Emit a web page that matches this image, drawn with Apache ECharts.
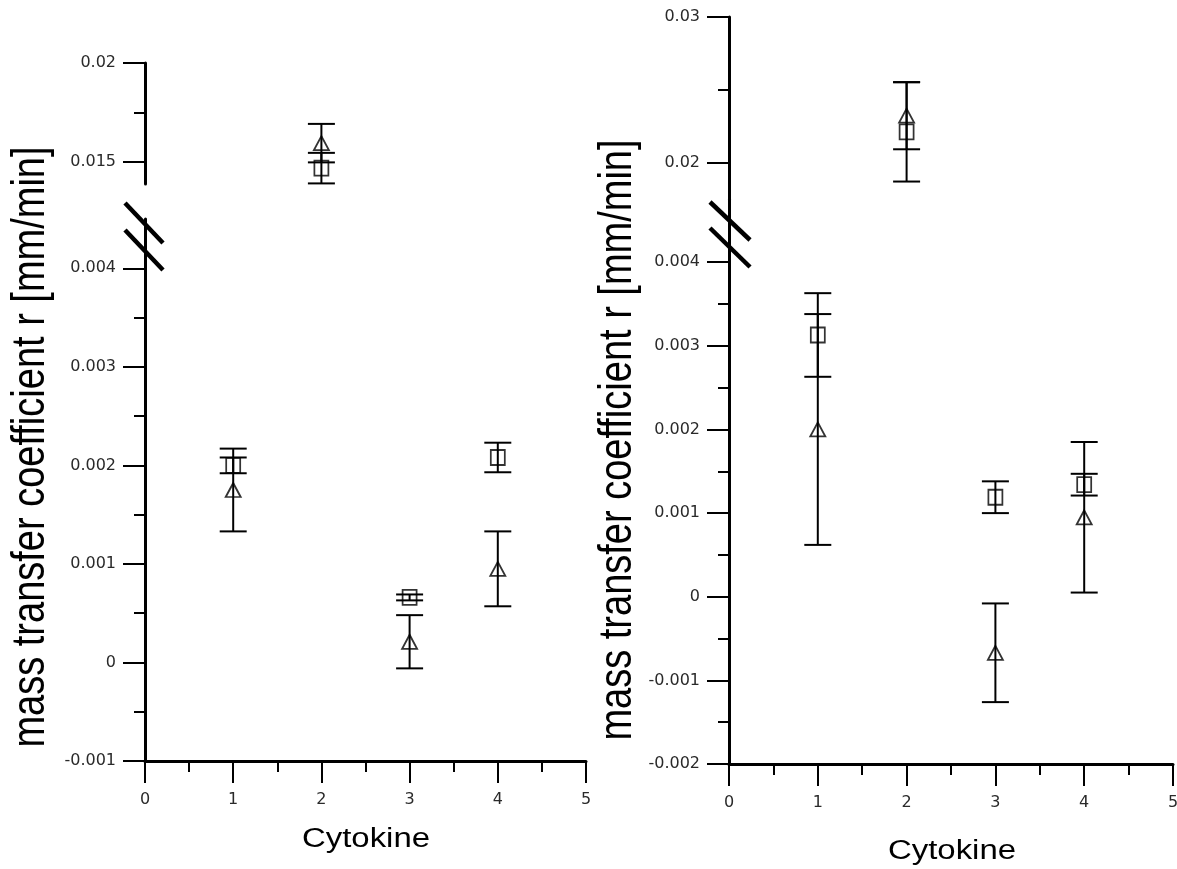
<!DOCTYPE html>
<html>
<head>
<meta charset="utf-8">
<script src="https://cdn.jsdelivr.net/npm/echarts@6/dist/echarts.min.js"></script>
<style>
html, body { margin: 0; padding: 0; background: #fff; }
#main { width: 1177px; height: 869px; }
</style>
</head>
<body>
<div id="main"></div>
<script>
// data
var cytokine = [1, 2, 3, 4];

var leftSquareMean = [0.0020, 0.0147, 0.00066, 0.00208];
var leftSquareErr = [0.00008, 0.00077, 0.00003, 0.00015];
var leftTriMean = [0.00175, 0.01596, 0.00021, 0.00095];
var leftTriErr = [0.00042, 0.00097, 0.00027, 0.00038];

var rightSquareMean = [0.00313, 0.02213, 0.00119, 0.00134];
var rightSquareErr = [0.0005, 0.0034, 0.00019, 0.00013];
var rightTriMean = [0.0020, 0.02324, -0.00067, 0.00095];
var rightTriErr = [0.00138, 0.0023, 0.00059, 0.0009];

// tick values
var leftUpperTicks = [0.015, 0.02];
var leftUpperMinor = [0.0175];
var leftLowerTicks = [-0.001, 0, 0.001, 0.002, 0.003, 0.004];
var leftLowerMinor = [-0.0005, 0.0005, 0.0015, 0.0025, 0.0035];
var rightUpperTicks = [0.02, 0.03];
var rightUpperMinor = [0.025];
var rightLowerTicks = [-0.002, -0.001, 0, 0.001, 0.002, 0.003, 0.004];
var rightLowerMinor = [-0.0015, -0.0005, 0.0005, 0.0015, 0.0025, 0.0035];

// broken axis ranges
var leftUpperRange = [0.0139, 0.02];
var leftLowerRange = [-0.001, 0.0045];
var rightUpperRange = [0.0175, 0.03];
var rightLowerRange = [-0.002, 0.00475];
var breakValue = 0.01;

var yName = 'mass transfer coefficient r [mm/min]';
var xName = 'Cytokine';

var myChart = echarts.init(document.getElementById('main'));

var labelFont = { color: '#2a2a2a', fontSize: 16, fontFamily: 'DejaVu Sans' };

function pick(means, errs, upper) {
    var out = [];
    for (var i = 0; i < cytokine.length; i++) {
        if ((means[i] > breakValue) === upper) out.push([cytokine[i], means[i], errs[i]]);
    }
    return out;
}

function renderBar(params, api) {
    var x = api.value(0), m = api.value(1), e = api.value(2);
    var hi = api.coord([x, m + e]);
    var lo = api.coord([x, m - e]);
    var w = 13.5;
    var st = { stroke: '#000', lineWidth: 2, fill: null };
    return {
        type: 'group',
        children: [
            { type: 'line', shape: { x1: hi[0], y1: hi[1], x2: lo[0], y2: lo[1] }, style: st },
            { type: 'line', shape: { x1: hi[0] - w, y1: hi[1], x2: hi[0] + w, y2: hi[1] }, style: st },
            { type: 'line', shape: { x1: lo[0] - w, y1: lo[1], x2: lo[0] + w, y2: lo[1] }, style: st }
        ]
    };
}

function xAxisFor(grid, shown) {
    return {
        type: 'value', gridIndex: grid, min: 0, max: 5, interval: 1,
        show: shown,
        axisLine: { show: true, onZero: false, lineStyle: { color: '#000', width: 3 } },
        axisTick: { show: true, length: 22, lineStyle: { color: '#000', width: 2 } },
        minorTick: { show: true, splitNumber: 2, length: 11, lineStyle: { color: '#000', width: 2 } },
        axisLabel: Object.assign({ margin: 31 }, labelFont),
        splitLine: { show: false }
    };
}

function yMajor(grid, range, ticks) {
    return {
        type: 'value', gridIndex: grid, position: 'left', min: range[0], max: range[1],
        axisLine: { show: true, onZero: false, lineStyle: { color: '#000', width: 3 } },
        axisTick: { show: true, length: 22, customValues: ticks, lineStyle: { color: '#000', width: 2 } },
        axisLabel: Object.assign({ margin: 29, customValues: ticks }, labelFont),
        splitLine: { show: false }
    };
}

function yMinor(grid, range, ticks) {
    return {
        type: 'value', gridIndex: grid, position: 'left', min: range[0], max: range[1],
        axisLine: { show: false, onZero: false },
        axisTick: { show: true, length: 11, customValues: ticks, lineStyle: { color: '#000', width: 2 } },
        axisLabel: { show: false },
        splitLine: { show: false }
    };
}

function errSeries(xi, yi, data) {
    return {
        type: 'custom', xAxisIndex: xi, yAxisIndex: yi, clip: false, z: 2,
        renderItem: renderBar, encode: { x: 0, y: 1 }, data: data
    };
}

function markSeries(xi, yi, data, sym) {
    return {
        type: 'scatter', xAxisIndex: xi, yAxisIndex: yi, z: 3, clip: false,
        symbol: sym === 'rect' ? 'rect' : 'triangle',
        symbolSize: sym === 'rect' ? [14, 15] : [15, 14],
        itemStyle: { color: 'rgba(0,0,0,0)', borderColor: '#000', borderWidth: 1.8 },
        data: data.map(function (d) { return [d[0], d[1]]; })
    };
}

function slash(x1, y1, x2, y2) {
    return { type: 'line', z: 10, shape: { x1: x1, y1: y1, x2: x2, y2: y2 },
        style: { stroke: '#000', lineWidth: 4.5 } };
}

function vText(txt, x, y) {
    return { type: 'text', x: x, y: y, rotation: Math.PI / 2, scaleY: 1.22, z: 10,
        style: { text: txt, font: '38px "Liberation Sans"', fill: '#000',
            textAlign: 'center', textVerticalAlign: 'middle', align: 'center', verticalAlign: 'middle' } };
}

function hText(txt, x, y) {
    return { type: 'text', x: x, y: y, scaleX: 1.22, z: 10,
        style: { text: txt, font: '27px "Liberation Sans"', fill: '#000',
            textAlign: 'center', textVerticalAlign: 'middle', align: 'center', verticalAlign: 'middle' } };
}

var series = [];
// panel A: grid0 upper (x0, y0/y1), grid1 lower (x1, y2/y3)
// panel B: grid2 upper (x2, y4/y5), grid3 lower (x3, y6/y7)
var panels = [
    { xu: 0, yu: 0, xl: 1, yl: 2, sq: [leftSquareMean, leftSquareErr], tr: [leftTriMean, leftTriErr] },
    { xu: 2, yu: 4, xl: 3, yl: 6, sq: [rightSquareMean, rightSquareErr], tr: [rightTriMean, rightTriErr] }
];
panels.forEach(function (p) {
    [[p.sq, 'rect'], [p.tr, 'triangle']].forEach(function (s) {
        var up = pick(s[0][0], s[0][1], true);
        var low = pick(s[0][0], s[0][1], false);
        series.push(errSeries(p.xu, p.yu, up));
        series.push(errSeries(p.xl, p.yl, low));
        series.push(markSeries(p.xu, p.yu, up, s[1]));
        series.push(markSeries(p.xl, p.yl, low, s[1]));
    });
});

var option = {
    animation: false,
    backgroundColor: '#fff',
    grid: [
        { left: 145, width: 441, top: 63, height: 121, containLabel: false, outerBoundsMode: 'none' },
        { left: 145, width: 441, top: 219, height: 542, containLabel: false, outerBoundsMode: 'none' },
        { left: 729, width: 444, top: 17, height: 182.5, containLabel: false, outerBoundsMode: 'none' },
        { left: 729, width: 444, top: 199.5, height: 564.5, containLabel: false, outerBoundsMode: 'none' }
    ],
    xAxis: [
        xAxisFor(0, false),
        xAxisFor(1, true),
        xAxisFor(2, false),
        xAxisFor(3, true)
    ],
    yAxis: [
        yMajor(0, leftUpperRange, leftUpperTicks),
        yMinor(0, leftUpperRange, leftUpperMinor),
        yMajor(1, leftLowerRange, leftLowerTicks),
        yMinor(1, leftLowerRange, leftLowerMinor),
        yMajor(2, rightUpperRange, rightUpperTicks),
        yMinor(2, rightUpperRange, rightUpperMinor),
        yMajor(3, rightLowerRange, rightLowerTicks),
        yMinor(3, rightLowerRange, rightLowerMinor)
    ],
    graphic: [
        slash(125, 203, 163, 243),
        slash(125, 230, 163, 270),
        slash(710, 202, 750, 240),
        slash(710, 228, 750, 267),
        vText(yName, 31, 447),
        vText(yName, 618, 440),
        hText(xName, 366, 840),
        hText(xName, 952, 852)
    ],
    series: series
};

myChart.setOption(option);
</script>
</body>
</html>
